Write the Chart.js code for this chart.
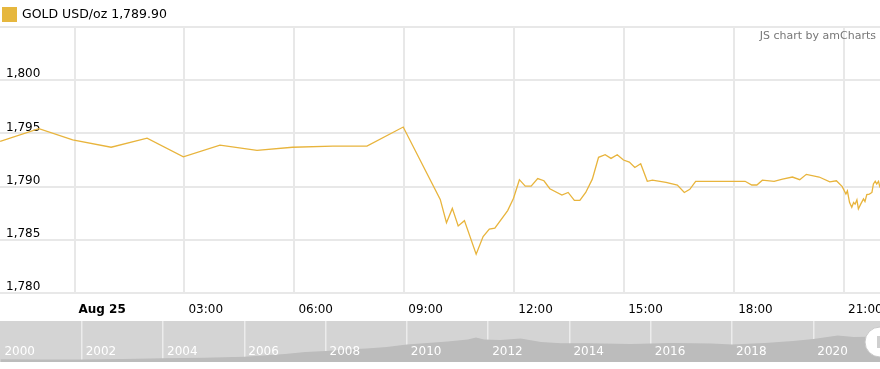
<!DOCTYPE html>
<html>
<head>
<meta charset="utf-8">
<script src="https://cdn.jsdelivr.net/npm/chart.js@4"></script>
<style>
  body { margin: 0; background: #fff; font-family: "DejaVu Sans", Verdana, sans-serif; }
  #wrap { position: relative; width: 880px; height: 369px; overflow: hidden; }
  #main { position: absolute; left: 0; top: 0; }
  #nav { position: absolute; left: 0; top: 321px; background: #d4d4d4; }
  #legend { position: absolute; left: 2px; top: 6px; height: 16px; }
  #legend .box { position: absolute; left: 0; top: 1px; width: 15px; height: 15px; background: #e6b73e; }
  #legend .txt { position: absolute; left: 20px; top: 0; font-size: 12.5px; line-height: 16px; color: #000; white-space: nowrap; }
  #credit { position: absolute; right: 4px; top: 29px; font-size: 11px; line-height: 13px; color: #777; }
</style>
</head>
<body>
<div id="wrap">
  <canvas id="main" width="880" height="320"></canvas>
  <canvas id="nav" width="880" height="41"></canvas>
  <div id="legend"><div class="box"></div><div class="txt">GOLD USD/oz 1,789.90</div></div>
  <div id="credit">JS chart by amCharts</div>
</div>
<script>
// hours after Aug 25 00:00
const hours = [-2.03, -0.97, -0.05, 1.0, 1.98, 2.97, 3.97, 4.98, 5.95, 7.05, 7.98, 8.97,
  9.98, 10.15, 10.31, 10.47, 10.64, 10.96, 11.15, 11.32, 11.47, 11.82, 11.98,
  12.14, 12.3, 12.46, 12.64, 12.81, 12.97, 13.3, 13.47, 13.64, 13.79, 13.95,
  14.13, 14.3, 14.48, 14.64, 14.81, 14.98, 15.14, 15.29, 15.45, 15.63, 15.77,
  16.14, 16.45, 16.64, 16.79, 16.95, 18.3, 18.48, 18.62, 18.77, 19.09, 19.32,
  19.59, 19.79, 19.97, 20.32, 20.61, 20.79, 20.95, 21.05, 21.09, 21.15, 21.21,
  21.26, 21.3, 21.35, 21.39, 21.46, 21.53, 21.57, 21.62, 21.69, 21.76, 21.8,
  21.85, 21.89, 21.94, 21.98];
const prices = [1794.25, 1795.45, 1794.4, 1793.7, 1794.55, 1792.8, 1793.9, 1793.4, 1793.7, 1793.8, 1793.8, 1795.6,
  1788.8, 1786.6, 1787.95, 1786.3, 1786.8, 1783.65, 1785.3, 1786.0, 1786.1, 1787.75, 1788.9,
  1790.65, 1790.05, 1790.05, 1790.75, 1790.55, 1789.8, 1789.2, 1789.45, 1788.7, 1788.7, 1789.45,
  1790.7, 1792.75, 1793.0, 1792.65, 1793.0, 1792.5, 1792.3, 1791.8, 1792.15, 1790.5, 1790.6,
  1790.4, 1790.15, 1789.45, 1789.75, 1790.5, 1790.5, 1790.15, 1790.15, 1790.6, 1790.5, 1790.7,
  1790.9, 1790.65, 1791.15, 1790.9, 1790.45, 1790.55, 1790.0, 1789.3, 1789.6, 1788.5, 1788.05,
  1788.5, 1788.35, 1788.75, 1787.9, 1788.4, 1788.85, 1788.6, 1789.25, 1789.3, 1789.45, 1790.25,
  1790.5, 1790.25, 1790.5, 1789.9];

const tickHours = [0, 3, 6, 9, 12, 15, 18, 21];
const tickLabels = ['Aug 25', '03:00', '06:00', '09:00', '12:00', '15:00', '18:00', '21:00'];
const yTicks = [1780, 1785, 1790, 1795, 1800, 1805];

// navigator (long-term history)
const navYears = [2000.0, 2001.0, 2002.0, 2003.0, 2004.0, 2005.0, 2006.0, 2007.0, 2007.5, 2008.0,
  2008.5, 2009.0, 2009.5, 2010.0, 2010.5, 2011.0, 2011.5, 2011.7, 2011.9, 2012.3, 2012.8,
  2013.3, 2013.8, 2014.5, 2015.5, 2016.5, 2017.5, 2018.0, 2018.8, 2019.5, 2020.0, 2020.6,
  2021.0, 2021.64];
const navValues = [200, 185, 185, 220, 270, 315, 390, 585, 730, 805,
  915, 990, 1100, 1280, 1390, 1500, 1650, 1790, 1650, 1610, 1720,
  1460, 1370, 1370, 1320, 1390, 1350, 1280, 1390, 1540, 1680, 1940,
  1830, 1870];
const navGridYears = [2002, 2004, 2006, 2008, 2010, 2012, 2014, 2016, 2018, 2020];
const navLabelYears = [2000, 2002, 2004, 2006, 2008, 2010, 2012, 2014, 2016, 2018, 2020];

const FONT = '"DejaVu Sans", Verdana, sans-serif';
const gold = '#e8b43c';
const gridColor = '#e8e8e8';

new Chart(document.getElementById('main'), {
  type: 'line',
  data: {
    datasets: [{
      data: hours.map((h, i) => ({ x: h, y: prices[i] })),
      borderColor: gold,
      borderWidth: 1.3,
      pointRadius: 0,
      tension: 0,
      fill: false
    }]
  },
  options: {
    responsive: false,
    animation: false,
    layout: { padding: { top: 27, left: 0, right: 0, bottom: 0 } },
    plugins: { legend: { display: false }, tooltip: { enabled: false } },
    scales: {
      x: {
        type: 'linear',
        min: -2.033,
        max: 21.98,
        afterBuildTicks: s => { s.ticks = tickHours.map(v => ({ value: v })); },
        afterFit: s => { s.height = 27; s.paddingLeft = 0; s.paddingRight = 0; },
        grid: { color: gridColor, lineWidth: 2, drawTicks: false },
        border: { display: false },
        ticks: {
          align: 'start',
          labelOffset: 4,
          padding: 10,
          maxRotation: 0,
          autoSkip: false,
          color: '#000',
          font: c => ({ family: FONT, size: 12, weight: (c.tick && c.tick.value === 0) ? 'bold' : 'normal' }),
          callback: v => tickLabels[tickHours.indexOf(v)]
        }
      },
      y: {
        min: 1780,
        max: 1805,
        afterBuildTicks: s => { s.ticks = yTicks.map(v => ({ value: v })); },
        afterFit: s => { s.width = 0; s.paddingTop = 0; s.paddingBottom = 0; },
        grid: { color: gridColor, lineWidth: 2, drawTicks: false },
        border: { display: false },
        ticks: {
          mirror: true,
          padding: 6,
          labelOffset: -6,
          color: '#000',
          font: { family: FONT, size: 12 },
          callback: v => v === 1805 ? '' : v.toLocaleString('en-US')
        }
      }
    }
  }
});

// year labels + scrollbar grip for the navigator
const navDecor = {
  id: 'navDecor',
  afterDraw(chart) {
    const c = chart.ctx, xs = chart.scales.x;
    c.save();
    c.fillStyle = '#fff';
    c.font = '12px ' + FONT;
    c.textAlign = 'left';
    c.textBaseline = 'middle';
    navLabelYears.forEach(y => c.fillText(String(y), xs.getPixelForValue(y) + 4, 31));
    // grip
    c.beginPath();
    c.arc(880, 21, 15, 0, Math.PI * 2);
    c.fillStyle = '#fff';
    c.fill();
    c.strokeStyle = '#c8c8c8';
    c.lineWidth = 1;
    c.stroke();
    c.fillStyle = '#cfcfcf';
    c.fillRect(877, 15, 3, 12);
    c.restore();
  }
};

new Chart(document.getElementById('nav'), {
  type: 'line',
  data: {
    datasets: [{
      data: navYears.map((y, i) => ({ x: y, y: navValues[i] })),
      borderWidth: 0,
      borderColor: 'rgba(0,0,0,0)',
      backgroundColor: '#bcbcbc',
      fill: 'start',
      pointRadius: 0,
      tension: 0
    }]
  },
  options: {
    responsive: false,
    animation: false,
    layout: { padding: 0 },
    plugins: { legend: { display: false }, tooltip: { enabled: false } },
    scales: {
      x: {
        type: 'linear',
        min: 1999.99,
        max: 2021.64,
        z: 1,
        afterBuildTicks: s => { s.ticks = navGridYears.map(v => ({ value: v })); },
        afterFit: s => { s.height = 0; s.paddingLeft = 0; s.paddingRight = 0; },
        grid: { color: '#ececec', lineWidth: 1.5, drawTicks: false },
        border: { display: false },
        ticks: { display: false }
      },
      y: { display: false, min: 0, max: 3000 }
    }
  },
  plugins: [navDecor]
});
</script>
</body>
</html>
